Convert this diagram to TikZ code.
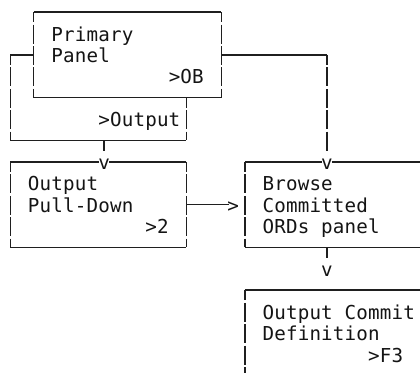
\documentclass[tikz,border=0pt]{standalone}
\usepackage{fontspec}
\newfontfamily\dvm{DejaVu Sans Mono}
\newlength\cw \setlength\cw{8.8pt}
\makeatletter
\def\mono#1{\mono@a#1\relax}
\def\mono@a#1{\ifx\relax#1\else\makebox[\cw][c]{#1}\expandafter\mono@a\fi}
\makeatother
\begin{document}
\begin{tikzpicture}[x=0.75pt,y=-0.75pt,
  ln/.style={line width=1.1pt, draw=black!88},
  vln/.style={ln, dash pattern=on 14.3pt off 1.75pt, dash phase=6.6pt},
  txt/.style={anchor=base west, inner sep=0pt, outer sep=0pt, font=\dvm\fontsize{14.4pt}{16pt}\selectfont, text=black!92}]
\useasboundingbox (0,0) rectangle (420,372);
\clip (0,0) rectangle (420,372);
% ---- coordinates
\coordinate (Ptl) at (33.76,12);   \coordinate (Ptr) at (221.44,12);
\coordinate (Pbl) at (33.76,97.6); \coordinate (Pbr) at (221.44,97.6);
\coordinate (Pl) at (33.76,54.8);  \coordinate (Pr) at (221.44,54.8);
\coordinate (La) at (10.3,54.8);   \coordinate (Lb) at (10.3,140.4);
\coordinate (Lc) at (186.25,140.4); \coordinate (Ld) at (186.25,97.6);
\coordinate (Sa) at (104.14,140.4); \coordinate (Sb) at (104.14,151.1);
\coordinate (Ra) at (327.01,54.8);  \coordinate (Rb) at (327.01,151.1);
\coordinate (Otl) at (10.3,161.8);  \coordinate (Otr) at (186.25,161.8);
\coordinate (Obl) at (10.3,247.4);  \coordinate (Obr) at (186.25,247.4);
\coordinate (Ova) at (99.2,161.8); \coordinate (Ovb) at (109.1,161.8);
\coordinate (Btl) at (244.9,161.8); \coordinate (Btr) at (420.85,161.8);
\coordinate (Bbl) at (244.9,247.4); \coordinate (Bbr) at (420.85,247.4);
\coordinate (Bva) at (322.1,161.8); \coordinate (Bvb) at (331.9,161.8);
\coordinate (Aa) at (186.25,204.6); \coordinate (Ab) at (228.5,204.6);
\coordinate (Ta) at (327.01,247.4); \coordinate (Tb) at (327.01,258.1);
\coordinate (Ctl) at (244.9,290.2); \coordinate (Ctr) at (420.85,290.2);
\coordinate (Cbl) at (244.9,385);   \coordinate (Cbr) at (420.85,385);
% ---- Primary panel box
\draw[ln] (Ptl) -- (Ptr);
\draw[ln] (Pbl) -- (Pbr);
\draw[vln] (Ptl) -- (Pbl);
\draw[vln] (Ptr) -- (Pbr);
% ---- left loop with >Output
\draw[ln] (Pl) -- (La);
\draw[vln] (La) -- (Lb);
\draw[ln] (Lb) -- (Lc);
\draw[vln] (Ld) -- (Lc);
\draw[ln] (Sa) -- (Sb);
% ---- right connector
\draw[ln] (Pr) -- (Ra);
\draw[vln] (Ra) -- (Rb);
% ---- Output Pull-Down box
\draw[ln] (Otl) -- (Ova);
\draw[ln] (Ovb) -- (Otr);
\draw[ln] (Obl) -- (Obr);
\draw[vln] (Otl) -- (Obl);
\draw[vln] (Otr) -- (Obr);
% ---- Browse box
\draw[ln] (Btl) -- (Bva);
\draw[ln] (Bvb) -- (Btr);
\draw[ln] (Bbl) -- (Bbr);
\draw[vln] (Btl) -- (Bbl);
\draw[vln] (Btr) -- (Bbr);
% ---- arrow and stub
\draw[ln] (Aa) -- (Ab);
\draw[ln] (Ta) -- (Tb);
% ---- Output Commit box
\draw[ln] (Ctl) -- (Ctr);
\draw[vln] (Ctl) -- (Cbl);
\draw[vln] (Ctr) -- (Cbr);
% ---- texts
\node[txt] (t1) at (51.36,41) {\mono{Primary}};
\node[txt] (t2) at (51.36,62.4) {\mono{Panel}};
\node[txt] (t3) at (168.66,83.8) {\mono{>OB}};
\node[txt] (t4) at (98.27,126.6) {\mono{>Output}};
\node[txt] (v1) at (98.27,169.4) {\mono{v}};
\node[txt] (v2) at (321.15,169.4) {\mono{v}};
\node[txt] (t5) at (27.9,190.8) {\mono{Output}};
\node[txt] (t6) at (27.9,212.2) {\mono{Pull-Down}};
\node[txt] (t7) at (145.2,233.6) {\mono{>2}};
\node[txt] (gt) at (227.3,212.2) {\mono{>}};
\node[txt] (t8) at (262.5,190.8) {\mono{Browse}};
\node[txt] (t9) at (262.5,212.2) {\mono{Committed}};
\node[txt] (t10) at (262.5,233.6) {\mono{ORDs~panel}};
\node[txt] (v3) at (321.15,276.4) {\mono{v}};
\node[txt] (t11) at (262.5,319.2) {\mono{Output~Commit}};
\node[txt] (t12) at (262.5,340.6) {\mono{Definition}};
\node[txt] (t13) at (368.07,362) {\mono{>F3}};
\end{tikzpicture}
\end{document}
